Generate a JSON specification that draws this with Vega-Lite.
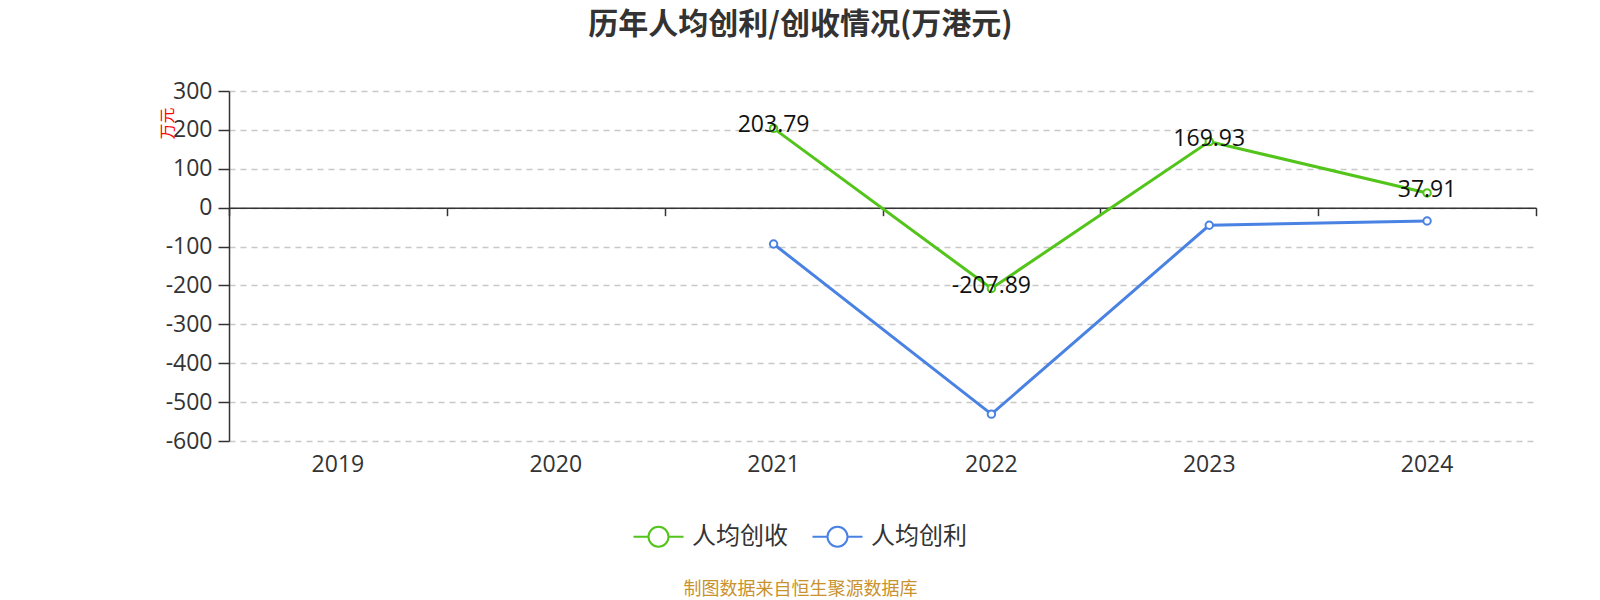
{
  "$schema": "https://vega.github.io/schema/vega-lite/v6.json",
  "autosize": "none",
  "width": 1307,
  "height": 350,
  "padding": {"left": 229, "top": 91, "right": 64, "bottom": 159},
  "background": "white",
  "title": {"text": "历年人均创利/创收情况(万港元)", "font": "Noto Sans CJK SC", "fontSize": 30, "fontWeight": "bold", "color": "#333", "anchor": "middle", "dx": -82, "offset": 40},
  "config": {"view": {"stroke": null}, "font": "Open Sans",
    "locale": {"number": {"decimal": ".", "thousands": ",", "grouping": [3], "currency": ["", ""], "minus": "-"}}},
  "data": {"values": [
    {"year": "2021", "series": "人均创收", "value": 203.79},
    {"year": "2022", "series": "人均创收", "value": -207.89},
    {"year": "2023", "series": "人均创收", "value": 169.93},
    {"year": "2024", "series": "人均创收", "value": 37.91},
    {"year": "2021", "series": "人均创利", "value": -93.4},
    {"year": "2022", "series": "人均创利", "value": -531},
    {"year": "2023", "series": "人均创利", "value": -45.3},
    {"year": "2024", "series": "人均创利", "value": -34.3}
  ]},
  "encoding": {
    "y": {"field": "value", "type": "quantitative",
      "scale": {"domain": [-600, 300], "nice": false, "zero": false},
      "axis": {"values": [-600, -500, -400, -300, -200, -100, 0, 100, 200, 300],
        "domain": true, "domainColor": "#333", "domainWidth": 1.5,
        "ticks": true, "tickSize": 11, "tickColor": "#333", "tickWidth": 1.5,
        "labelFontSize": 23, "labelColor": "#333", "labelPadding": 6, "labelFont": "Open Sans",
        "grid": true, "gridColor": "#c8c8c8", "gridDash": [6, 5], "gridWidth": 1.3,
        "title": "万元", "titleColor": "red", "titleFontSize": 16, "titleFont": "Noto Sans CJK SC", "titleFontWeight": "normal",
        "titleAngle": -90, "titleX": -62, "titleY": 32, "titleAlign": "center", "titleBaseline": "middle"}}
  },
  "resolve": {"axis": {"x": "independent"}},
  "layer": [
    {
      "mark": {"type": "line", "strokeWidth": 3, "point": {"filled": false, "fill": "white", "size": 55, "strokeWidth": 2}},
      "encoding": {
        "x": {"field": "year", "type": "ordinal", "bandPosition": 0.5,
          "scale": {"type": "band", "domain": ["2019", "2020", "2021", "2022", "2023", "2024"], "paddingInner": 0, "paddingOuter": 0},
          "axis": {"orient": "bottom", "domain": false, "ticks": false, "tickSize": 0, "grid": false,
            "labelFontSize": 23, "labelColor": "#333", "labelPadding": 12, "labelAngle": 0, "labelFont": "Open Sans",
            "title": "制图数据来自恒生聚源数据库", "titleColor": "#c8922e", "titleFontSize": 18, "titleFont": "Noto Sans CJK SC", "titleFontWeight": "normal",
            "titleX": 571, "titleY": 148, "titleAlign": "center", "titleBaseline": "middle"}},
        "color": {"field": "series", "type": "nominal",
          "scale": {"domain": ["人均创收", "人均创利"], "range": ["#52c41a", "#4a82e3"]},
          "legend": {"orient": "none", "legendX": 416, "legendY": 432, "direction": "horizontal", "title": null,
            "symbolType": "M-2,0L-0.8,0M0.8,0L2,0M0.8,0A0.8,0.8,0,1,1,-0.8,0A0.8,0.8,0,1,1,0.8,0",
            "symbolSize": 625, "symbolStrokeWidth": 2, "symbolFillColor": "white",
            "labelFontSize": 24, "labelFont": "Noto Sans CJK SC", "labelColor": "#333", "labelOffset": 20, "columnPadding": 20, "padding": 0}}
      }
    },
    {
      "transform": [{"filter": "datum.series == '人均创收'"}],
      "mark": {"type": "text", "fontSize": 23, "color": "#111", "baseline": "middle", "dy": -3, "font": "Open Sans"},
      "encoding": {
        "x": {"field": "year", "type": "ordinal", "bandPosition": 0.5,
          "scale": {"type": "band", "domain": ["2019", "2020", "2021", "2022", "2023", "2024"], "paddingInner": 0, "paddingOuter": 0},
          "axis": {"orient": "bottom", "offset": -233.33, "labels": false, "title": null, "grid": false,
            "domain": true, "domainColor": "#333", "domainWidth": 1.5,
            "ticks": true, "tickBand": "extent", "tickSize": 8, "tickColor": "#333", "tickWidth": 1.5}},
        "text": {"field": "value", "type": "quantitative", "format": ".2f"}
      }
    }
  ]
}
